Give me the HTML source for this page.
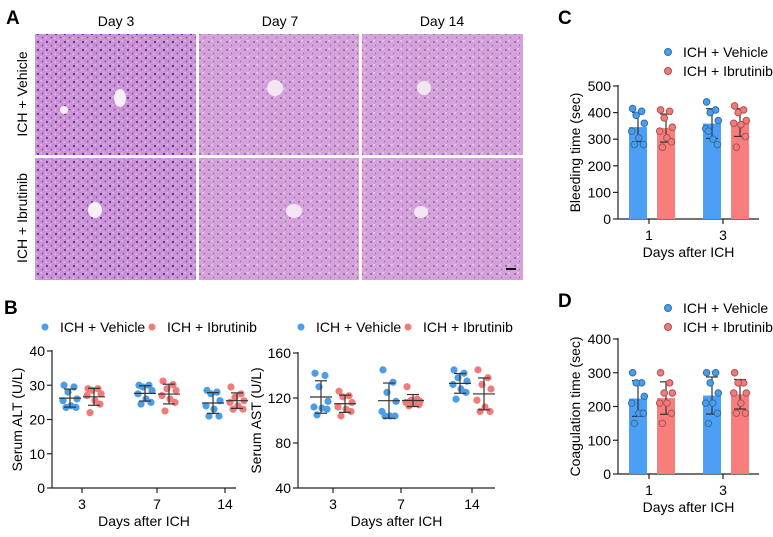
<!DOCTYPE html>
<html><head><meta charset="utf-8"><style>
html,body{margin:0;padding:0;background:#fff;}
svg{display:block;font-family:"Liberation Sans",Arial,sans-serif;}
</style></head><body>
<svg id="fig" width="773" height="537" viewBox="0 0 773 537" xmlns="http://www.w3.org/2000/svg">
<defs>
<pattern id="he" width="9" height="8" patternUnits="userSpaceOnUse">
<rect width="9" height="8" fill="#cc92d6"/>
<circle cx="2" cy="2" r="1.1" fill="#5a3596"/>
<circle cx="6.5" cy="5.5" r="0.9" fill="#7c4ab0"/>
<circle cx="5" cy="1" r="0.8" fill="#ecc6ee"/>
<circle cx="1" cy="6" r="0.8" fill="#ecc6ee"/>
</pattern>
<pattern id="he2" width="9" height="8" patternUnits="userSpaceOnUse">
<rect width="9" height="8" fill="#d5a3da"/>
<circle cx="2" cy="2" r="0.9" fill="#7d50aa"/>
<circle cx="6.5" cy="5.5" r="0.8" fill="#9866bc"/>
<circle cx="5" cy="1" r="0.9" fill="#f0d2f0"/>
</pattern>
</defs>
<g id="panelA">
<text x="6" y="24" font-size="19" font-weight="bold">A</text>
<text x="116" y="26" font-size="14" text-anchor="middle">Day 3</text>
<text x="280" y="26" font-size="14" text-anchor="middle">Day 7</text>
<text x="442" y="26" font-size="14" text-anchor="middle">Day 14</text>
<text transform="translate(27,94) rotate(-90)" font-size="14" text-anchor="middle">ICH + Vehicle</text>
<text transform="translate(27,218) rotate(-90)" font-size="14" text-anchor="middle">ICH + Ibrutinib</text>
<rect x="35" y="34" width="161" height="121" fill="url(#he)"/>
<rect x="199" y="34" width="160" height="121" fill="url(#he2)"/>
<rect x="362" y="34" width="161" height="121" fill="url(#he2)"/>
<rect x="35" y="158" width="161" height="122" fill="url(#he)"/>
<rect x="199" y="158" width="160" height="122" fill="url(#he2)"/>
<rect x="362" y="158" width="161" height="122" fill="url(#he2)"/>
<ellipse cx="120" cy="98" rx="6" ry="9" fill="#f8f0f8"/>
<ellipse cx="64" cy="110" rx="4" ry="4" fill="#f8f0f8"/>
<ellipse cx="275" cy="88" rx="8" ry="8" fill="#f3e6f3"/>
<ellipse cx="424" cy="88" rx="7" ry="7" fill="#f3e6f3"/>
<ellipse cx="95" cy="210" rx="7" ry="8" fill="#f8f0f8"/>
<ellipse cx="294" cy="211" rx="8" ry="7" fill="#f3e6f3"/>
<ellipse cx="421" cy="212" rx="7" ry="6" fill="#f3e6f3"/>
<rect x="506" y="268" width="10" height="2" fill="#111"/>
</g>
<text x="4" y="314" font-size="19" font-weight="bold">B</text>
<text x="558" y="24" font-size="19" font-weight="bold">C</text>
<text x="558" y="307" font-size="19" font-weight="bold">D</text>
<g id="charts"></g>
</svg>
<script>
// ---- data ----
const daysB = ["3","7","14"];
const altVeh = [[30,29.5,28,26,25.5,24,23.5,23.5],[30,30,29.5,28.5,27.5,26,25,24.5],[28.5,28,27.5,25.5,24,23,21,21]];
const altIbr = [[29,29,28.5,27.5,27,25.5,24.5,22],[31.2,30.2,29,28.5,27,26,25,22.5],[29.5,27.5,26.5,25.5,25,24,23,23]];
const astVeh = [[142,140,130,117,112,111,110,105],[145,134,125,117,108,104,104,104],[145,142,138,135,132,128,125,119]];
const astIbr = [[126,122,121,116,112,110,108,104],[130,119,118,117,116,115,114,113],[145,138,132,128,118,112,108,108]];
const altTicks = [0,10,20,30,40];
const astTicks = [40,80,120,160];
const daysCD = ["1","3"];
const bleedVeh = [[415,405,390,360,330,305,280,280],[440,410,400,370,340,300,280,330]];
const bleedIbr = [[410,405,380,345,330,305,290,270],[425,410,400,370,360,355,310,270]];
const coagVeh = [[300,270,270,230,210,180,180,150],[300,300,270,240,210,210,180,150]];
const coagIbr = [[300,270,240,240,210,210,180,150],[300,270,270,240,240,210,180,180]];
const bleedTicks = [0,100,200,300,400,500];
const coagTicks = [0,100,200,300,400];

const NS="http://www.w3.org/2000/svg";
const root=document.getElementById('charts');
const BLUE="#4a9de6", RED="#ef7b7b", BLUEB="#4d9ff5", REDB="#f87e7e";
const FS=14;
function el(tag,attrs,parent,text){const e=document.createElementNS(NS,tag);for(const k in attrs)e.setAttribute(k,attrs[k]);if(text!==undefined)e.textContent=text;(parent||root).appendChild(e);return e;}
function mean(a){return a.reduce((s,v)=>s+v,0)/a.length;}
function sd(a){const m=mean(a);return Math.sqrt(a.reduce((s,v)=>s+(v-m)*(v-m),0)/(a.length-1));}
const jit=[-6,4,-2,7,-7,1,6,-4];

function legend(x1,y1,x2,y2,col){
  const g=el('g',{});
  
  
  const a=el('circle',{cx:x1,cy:y1,r:3.5,fill:BLUE,stroke:col?"#2f6fae":"none"},g);
  
  
  const t=el('text',{x:x1+15,y:y1+5,'font-size':FS},g,"ICH + Vehicle");
  
  
  const b=el('circle',{cx:x2,cy:y2,r:3.5,fill:RED,stroke:col?"#b05050":"none"},g);
  
  
  const u=el('text',{x:x2+15,y:y2+5,'font-size':FS},g,"ICH + Ibrutinib");
  
  
}

function axes(o){
  const g=el('g',{});
  
  
  el('line',{x1:o.x0,y1:o.yTop-1,x2:o.x0,y2:o.yBot,stroke:"#222","stroke-width":1.2},g);
  el('line',{x1:o.x0,y1:o.yBot,x2:o.x1,y2:o.yBot,stroke:"#222","stroke-width":1.2},g);
  o.ticks.forEach(v=>{const y=o.ys(v);
    el('line',{x1:o.x0-5,y1:y,x2:o.x0,y2:y,stroke:"#222","stroke-width":1.2},g);
    const t=el('text',{x:o.x0-7,y:y+5,'font-size':FS,'text-anchor':'end'},g,String(v));
    
    
  });
  o.cats.forEach((c,i)=>{const x=o.xs(i);
    el('line',{x1:x,y1:o.yBot,x2:x,y2:o.yBot+5,stroke:"#222","stroke-width":1.2},g);
    const t=el('text',{x:x,y:o.yBot+21,'font-size':FS,'text-anchor':'middle'},g,c);
    
    
  });
  const xt=el('text',{x:(o.x0+o.x1)/2,y:o.yBot+38,'font-size':FS,'text-anchor':'middle'},g,"Days after ICH");
  
  
  const cy=(o.yTop+o.yBot)/2;
  const yt=el('text',{transform:`translate(${o.x0-o.ytOff},${cy}) rotate(-90)`,'font-size':FS,'text-anchor':'middle'},g,o.ytitle);
  
  
}

function errbar(g,x,m,s,ys,w,col){
  el('line',{x1:x,y1:ys(m+s),x2:x,y2:ys(m-s),stroke:col,"stroke-width":1.2},g);
  el('line',{x1:x-w*0.5,y1:ys(m+s),x2:x+w*0.5,y2:ys(m+s),stroke:col,"stroke-width":1.2},g);
  el('line',{x1:x-w*0.5,y1:ys(m-s),x2:x+w*0.5,y2:ys(m-s),stroke:col,"stroke-width":1.2},g);
}

function scatterChart(o){
  axes(o);
  [[o.veh,-12,BLUE,'vehicle'],[o.ibr,12,RED,'ibrutinib']].forEach(([data,off,col,nm])=>{
    data.forEach((arr,i)=>{
      const g=el('g',{});
      
      
      const cx=o.xs(i)+off;
      arr.forEach((v,k)=>{const c=el('circle',{cx:cx+jit[k],cy:o.ys(v),r:3.6,fill:col},g);
        
        });
      const m=mean(arr),s=sd(arr);
      el('line',{x1:cx-11,y1:o.ys(m),x2:cx+11,y2:o.ys(m),stroke:"#333","stroke-width":1.2},g);
      errbar(g,cx,m,s,o.ys,12,"#333");
    });
  });
}

function barChart(o){
  axes(o);
  [[o.veh,-11,BLUEB,BLUE,"#2f6fae",'vehicle'],[o.ibr,17,REDB,RED,"#b05050",'ibrutinib']].forEach(([data,off,bc,pc,sc,nm])=>{
    data.forEach((arr,i)=>{
      const g=el('g',{});
      
      
      const cx=o.xs(i)+off, m=mean(arr), s=sd(arr);
      el('rect',{x:cx-9,y:o.ys(m),width:18,height:o.yBot-o.ys(m),fill:bc},g);
      errbar(g,cx,m,s,o.ys,12,"#333");
      arr.forEach((v,k)=>{const c=el('circle',{cx:cx+jit[k]*0.9,cy:o.ys(v),r:3.3,fill:pc,stroke:sc,"stroke-width":1},g);
        
        });
    });
  });
}

function lin(d0,d1,r0,r1){return v=>r0+(v-d0)/(d1-d0)*(r1-r0);}

legend(45,327,152,327,false);
scatterChart({name:'alt',x0:52,x1:236,yTop:351,yBot:488,ys:lin(0,40,488,351),ticks:altTicks,cats:daysB,
  xs:i=>[82,157,225][i],veh:altVeh,ibr:altIbr,ytitle:"Serum ALT (U/L)",ytOff:30});
legend(301,327,408,327,false);
scatterChart({name:'ast',x0:298,x1:495,yTop:353,yBot:488,ys:lin(40,160,488,353),ticks:astTicks,cats:daysB,
  xs:i=>[333,401,472][i],veh:astVeh,ibr:astIbr,ytitle:"Serum AST (U/L)",ytOff:37});
legend(668,52,668,71,true);
barChart({name:'bleeding',x0:618,x1:759,yTop:86,yBot:219,ys:lin(0,500,219,86),ticks:bleedTicks,cats:daysCD,
  xs:i=>[649,723][i],veh:bleedVeh,ibr:bleedIbr,ytitle:"Bleeding time (sec)",ytOff:38});
legend(668,308,668,327,true);
barChart({name:'coagulation',x0:618,x1:759,yTop:339,yBot:474,ys:lin(0,400,474,339),ticks:coagTicks,cats:daysCD,
  xs:i=>[649,723][i],veh:coagVeh,ibr:coagIbr,ytitle:"Coagulation time (sec)",ytOff:38});
</script>
</body></html>
